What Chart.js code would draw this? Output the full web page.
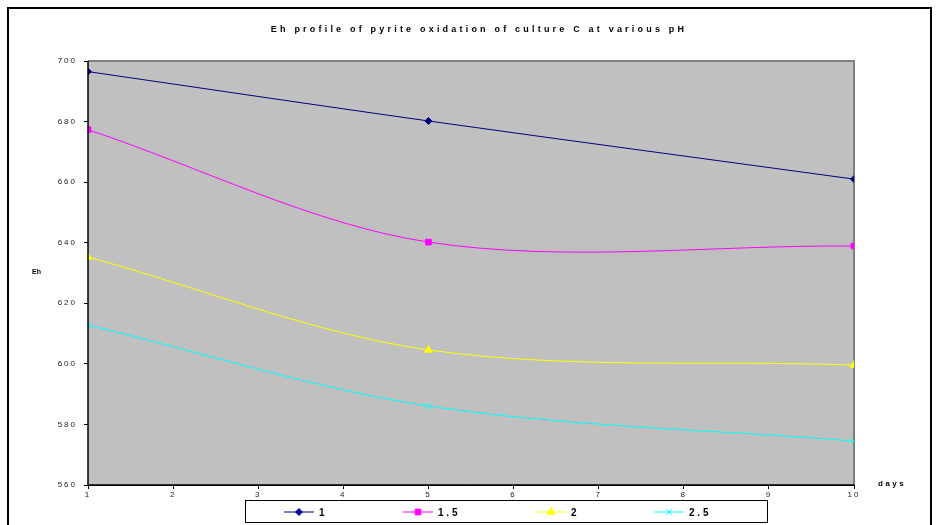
<!DOCTYPE html>
<html>
<head>
<meta charset="utf-8">
<script src="https://cdn.jsdelivr.net/npm/chart.js@4/dist/chart.umd.min.js"></script>
<style>
  html, body { margin: 0; padding: 0; background: #ffffff; }
  #wrap { position: relative; width: 937px; height: 525px; }
</style>
</head>
<body>
<div id="wrap"><canvas id="c" width="937" height="525"></canvas></div>
<script>
// Eh readings (mV) taken on days 1, 5 and 10 for each starting pH
const days = [1, 5, 10];
const phLabels = ['1', '1 . 5', '2', '2 . 5'];
const ehPh1 = [696.5, 680.2, 661.0];
const ehPh15 = [677.3, 640.2, 638.9];
const ehPh2 = [635.3, 604.6, 599.6];
const ehPh25 = [612.8, 586.1, 574.5];
const yTicks = [560, 580, 600, 620, 640, 660, 680, 700];

const FONT = '"Liberation Sans", Arial, sans-serif';

function pts(vals) { return days.map((d, i) => ({ x: d, y: vals[i] })); }

const seriesStyle = [
  { color: '#000080', style: 'rectRot', r: 3.5 },
  { color: '#FF00FF', style: 'rect', r: 4 },
  { color: '#FFFF00', style: 'triangle', r: 4.5 },
  { color: '#00FFFF', style: 'crossRot', r: 4 }
];
const seriesVals = [ehPh1, ehPh15, ehPh2, ehPh25];

const datasets = seriesVals.map((v, i) => ({
  label: phLabels[i],
  data: pts(v),
  borderColor: seriesStyle[i].color,
  backgroundColor: seriesStyle[i].color,
  borderWidth: 1,
  pointStyle: seriesStyle[i].style,
  pointRadius: seriesStyle[i].r,
  pointBorderWidth: 1,
  tension: 0.33,
  fill: false
}));

// spaced-out lettering used throughout the chart
const spacing = {
  id: 'spacing',
  beforeInit(chart) { chart.ctx.letterSpacing = '2px'; },
  beforeUpdate(chart) { chart.ctx.letterSpacing = '2px'; },
  beforeDraw(chart) { chart.ctx.letterSpacing = '2px'; }
};

// grey plot background and frame
const plotFrame = {
  id: 'plotFrame',
  beforeDatasetsDraw(chart) {
    const { ctx, chartArea: a } = chart;
    ctx.save();
    ctx.fillStyle = '#C0C0C0';
    ctx.fillRect(a.left, a.top, a.right - a.left, a.bottom - a.top);
    ctx.strokeStyle = '#808080';
    ctx.lineWidth = 2;
    ctx.beginPath();
    ctx.moveTo(a.left, a.top);
    ctx.lineTo(a.right, a.top);
    ctx.lineTo(a.right, a.bottom);
    ctx.stroke();
    ctx.restore();
  },
  afterDatasetsDraw(chart) {
    const { ctx, chartArea: a } = chart;
    ctx.save();
    ctx.strokeStyle = '#000000';
    ctx.lineWidth = 1.5;
    ctx.beginPath();
    ctx.moveTo(a.left, a.top);
    ctx.lineTo(a.left, a.bottom);
    ctx.lineTo(a.right, a.bottom);
    ctx.stroke();
    ctx.restore();
  }
};

// outer border, title, axis captions and legend box
const decorations = {
  id: 'decorations',
  afterDraw(chart) {
    const ctx = chart.ctx;
    ctx.save();
    ctx.strokeStyle = '#000000';
    ctx.lineWidth = 2;
    ctx.strokeRect(8, 8, 923, 530);

    ctx.fillStyle = '#000000';
    ctx.textBaseline = 'middle';
    ctx.letterSpacing = '3.2px';
    ctx.font = 'bold 9px ' + FONT;
    ctx.textAlign = 'center';
    ctx.fillText('Eh profile of pyrite oxidation of culture C at various pH', 479, 30);

    ctx.letterSpacing = '2.5px';
    ctx.font = 'bold 8px ' + FONT;
    ctx.textAlign = 'left';
    ctx.fillText('days', 878, 484);

    ctx.letterSpacing = '0px';
    ctx.font = 'bold 7px ' + FONT;
    ctx.fillText('Eh', 32, 272);

    // legend
    ctx.lineWidth = 1;
    ctx.strokeStyle = '#000000';
    ctx.strokeRect(245.5, 500.5, 522, 22);
    const lx = [284, 403, 536, 654];
    const ly = 512;
    chart.data.datasets.forEach((ds, i) => {
      ctx.strokeStyle = ds.borderColor;
      ctx.lineWidth = 1;
      ctx.beginPath();
      ctx.moveTo(lx[i], ly);
      ctx.lineTo(lx[i] + 30, ly);
      ctx.stroke();
      ctx.fillStyle = ds.backgroundColor;
      Chart.helpers.drawPoint(ctx, {
        pointStyle: ds.pointStyle,
        radius: ds.pointRadius,
        borderWidth: 1,
        rotation: 0
      }, lx[i] + 15, ly);
      ctx.fillStyle = '#000000';
      ctx.letterSpacing = '0px';
      ctx.font = 'bold 10px ' + FONT;
      ctx.textAlign = 'left';
      ctx.fillText(ds.label, lx[i] + 35, ly + 1);
    });
    ctx.restore();
  }
};

new Chart(document.getElementById('c'), {
  type: 'line',
  data: { datasets },
  plugins: [spacing, plotFrame, decorations],
  options: {
    responsive: false,
    animation: false,
    devicePixelRatio: 1,
    layout: { padding: { left: 0, top: 61, right: 83, bottom: 0 } },
    plugins: {
      legend: { display: false },
      title: { display: false },
      tooltip: { enabled: false }
    },
    scales: {
      x: {
        type: 'linear',
        min: 1,
        max: 10,
        afterFit(s) { s.height = 40; },
        ticks: {
          stepSize: 1,
          autoSkip: false,
          maxRotation: 0,
          padding: 1,
          color: '#222222',
          font: { family: FONT, size: 8 }
        },
        grid: { drawOnChartArea: false, drawTicks: true, tickLength: 4, color: '#000000' },
        border: { display: true, color: '#000000', width: 1 }
      },
      y: {
        type: 'linear',
        min: 560,
        max: 700,
        afterFit(s) { s.width = 88; },
        afterBuildTicks(s) { s.ticks = yTicks.map(v => ({ value: v })); },
        ticks: {
          padding: 7,
          color: '#222222',
          font: { family: FONT, size: 8 },
          callback: v => String(v)
        },
        grid: { drawOnChartArea: false, drawTicks: true, tickLength: 4, color: '#000000' },
        border: { display: true, color: '#000000', width: 1 }
      }
    }
  }
});
</script>
</body>
</html>
